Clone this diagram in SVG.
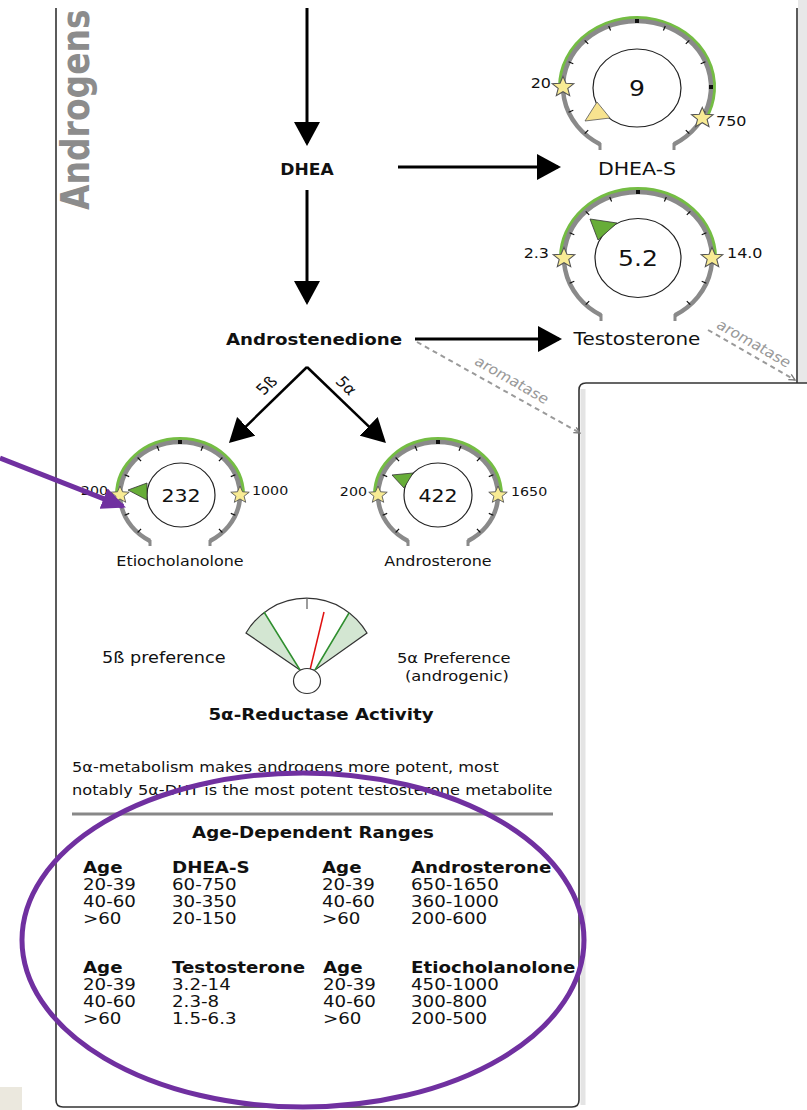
<svg xmlns="http://www.w3.org/2000/svg" width="807" height="1110" viewBox="0 0 807 1110">
<defs>
<style>
.f{font-family:"DejaVu Sans","Noto Sans",sans-serif;fill:#111}
.b{font-weight:bold}
.c{text-anchor:middle}
.e{text-anchor:end}
.arc{fill:none;stroke:#8a8a8a;stroke-width:4.5}
.hook{fill:none;stroke:#8a8a8a;stroke-width:3}
.grn{fill:none;stroke:#74bd43;stroke-width:4}
.tk{stroke:#111;stroke-width:1.2;fill:none}
.inner{fill:#fff;stroke:#222;stroke-width:1.2}
.star{fill:#f8eb94;stroke:#555;stroke-width:0.9}
.ptrG{fill:#67ad38;stroke:#333;stroke-width:0.8}
.ptrY{fill:#f7e38f;stroke:#555;stroke-width:0.8}
.ln{stroke:#000;fill:none}
.dash{stroke:#9a9a9a;stroke-width:2;stroke-dasharray:5 4;fill:none}
.aro{fill:#999}
.border{fill:none;stroke:#333;stroke-width:1.6}
</style>
<marker id="ah" markerUnits="userSpaceOnUse" markerWidth="24" markerHeight="26" viewBox="0 0 24 26" refX="21" refY="13" orient="auto"><path d="M0,0 L24,13 L0,26 Z" fill="#000"/></marker>
<marker id="ahp" markerUnits="userSpaceOnUse" markerWidth="24" markerHeight="22" viewBox="0 0 24 22" refX="21" refY="11" orient="auto"><path d="M0,0 L24,11 L0,22 Z" fill="#7030a0"/></marker>
<marker id="ahg" markerUnits="userSpaceOnUse" markerWidth="8" markerHeight="8" viewBox="0 0 8 8" refX="7" refY="4" orient="auto"><path d="M1,1 L7,4 L1,7" fill="none" stroke="#777" stroke-width="1.3"/></marker>
<polygon id="star" class="star" points="0,-9.5 2.47,-3.4 9.04,-2.94 3.99,1.3 5.58,7.69 0,4.2 -5.58,7.69 -3.99,1.3 -9.04,-2.94 -2.47,-3.4"/>
<g id="gBig">
<path class="arc" d="M-37,57.2 A74,66 0 1 1 37,57.2"/>
<path class="hook" d="M-37,56 v7 M37,56 v7"/>
<path class="tk" d="M28.3,-61 L26.4,-56.4 M-28.3,-61 L-26.4,-56.4 M52.3,-46.7 L48.8,-43.1 M-52.3,-46.7 L-48.8,-43.1 M68.4,-25.3 L63.7,-23.3 M-68.4,-25.3 L-63.7,-23.3 M68.4,25.3 L63.7,23.3 M-68.4,25.3 L-63.7,23.3 M52.3,46.7 L48.8,43.1 M-52.3,46.7 L-48.8,43.1"/>
<rect x="-2" y="-68" width="4" height="4" fill="#111"/>
<rect x="72" y="-2" width="4" height="4" fill="#111"/>
<rect x="-76" y="-2" width="4" height="4" fill="#111"/>
</g>
<g id="gSmall">
<path class="arc" d="M-30,45.9 A60,53 0 1 1 30,45.9"/>
<path class="hook" d="M-30,45 v6 M30,45 v6"/>
<path class="tk" d="M23,-49 L21,-44.3 M-23,-49 L-21,-44.3 M42.4,-37.5 L38.9,-33.9 M-42.4,-37.5 L-38.9,-33.9 M55.4,-20.3 L50.8,-18.4 M-55.4,-20.3 L-50.8,-18.4 M55.4,20.3 L50.8,18.4 M-55.4,20.3 L-50.8,18.4 M42.4,37.5 L38.9,33.9 M-42.4,37.5 L-38.9,33.9"/>
<rect x="-2" y="-55" width="4" height="4" fill="#111"/>
<rect x="58" y="-2" width="4" height="4" fill="#111"/>
<rect x="-62" y="-2" width="4" height="4" fill="#111"/>
</g>
</defs>

<rect width="807" height="1110" fill="#fff"/>

<g id="panels">
<rect x="0" y="1087" width="22" height="23" fill="#ebe8de"/>
<rect x="798" y="0" width="9" height="383" fill="#e8e8e8"/>
<line class="border" x1="797" y1="8" x2="797" y2="383"/>
<path class="border" d="M56,8 V1100 Q56,1107 63,1107 H572 Q579,1107 579,1100"/>
<rect x="580.5" y="389" width="5" height="716" fill="#e4e4e4"/>
<path class="border" d="M579,1100 V390 Q579,383 586,383 H807"/>
<text class="f b" font-size="33" style="fill:#8c8c8c" transform="translate(89,210) scale(1.16,1) rotate(-90)">Androgens</text>
</g>

<g id="connectors">
<path class="ln" stroke-width="3" d="M307,8 V143" marker-end="url(#ah)"/>
<path class="ln" stroke-width="3" d="M307,190 V302" marker-end="url(#ah)"/>
<path class="ln" stroke-width="3" d="M398,167 H558" marker-end="url(#ah)"/>
<path class="ln" stroke-width="3" d="M415,339 H559" marker-end="url(#ah)"/>
<path class="ln" stroke-width="2.5" d="M307,367 L231.1,440.9" marker-end="url(#ah)"/>
<path class="ln" stroke-width="2.5" d="M307,367 L383.8,440.9" marker-end="url(#ah)"/>
<text class="f" font-size="15" transform="translate(271,389) scale(1.14,1) rotate(-47)" text-anchor="middle">5ß</text>
<text class="f" font-size="15" transform="translate(342,389) scale(1.14,1) rotate(47)" text-anchor="middle">5α</text>
<path class="dash" d="M417,342 L580,433" marker-end="url(#ahg)"/>
<path class="dash" d="M708,330 L795,380" marker-end="url(#ahg)"/>
<text class="f aro" style="fill:#999" font-size="14" text-anchor="middle" transform="translate(509,384) scale(1.14,1) rotate(33)">aromatase</text>
<text class="f aro" style="fill:#999" font-size="14" text-anchor="middle" transform="translate(751,347.5) scale(1.14,1) rotate(33)">aromatase</text>
</g>

<g id="dhea">
<text class="f b c" font-size="15" transform="translate(307,175) scale(1.14,1)">DHEA</text>
</g>
<g id="androstenedione">
<text class="f b c" font-size="16" transform="translate(314,345) scale(1.14,1)">Androstenedione</text>
</g>

<g id="dhea-s" transform="translate(637,87)">
<path class="grn" d="M-77,0 A77,69 0 1 1 68,32.4"/>
<use href="#gBig"/>
<use href="#star" transform="translate(-74,0) scale(1.2,1.12)"/>
<use href="#star" transform="translate(65.3,31) scale(1.2,1.12)"/>
<ellipse class="inner" cx="0" cy="1" rx="44" ry="39"/>
<polygon class="ptrY" points="-52,34 -40,15 -27,31"/>
<text class="f c" font-size="22" transform="translate(0,9) scale(1.14,1)">9</text>
<text class="f e" font-size="14" transform="translate(-86,1) scale(1.14,1)">20</text>
<text class="f" font-size="14" transform="translate(79,39) scale(1.14,1)">750</text>
<text class="f c" font-size="18" transform="translate(0,88) scale(1.14,1)">DHEA-S</text>
</g>

<g id="testosterone" transform="translate(638,258)">
<path class="grn" d="M-77,0 A77,69 0 0 1 77,0"/>
<use href="#gBig"/>
<use href="#star" transform="translate(-74,0) scale(1.2,1.12)"/>
<use href="#star" transform="translate(74,0) scale(1.2,1.12)"/>
<ellipse class="inner" cx="0" cy="0" rx="43" ry="39.5"/>
<polygon class="ptrG" points="-48,-39 -21,-35 -40,-18"/>
<text class="f c" font-size="22" transform="translate(0,8) scale(1.14,1)">5.2</text>
<text class="f e" font-size="14" transform="translate(-89,0) scale(1.14,1)">2.3</text>
<text class="f" font-size="14" transform="translate(89,0) scale(1.14,1)">14.0</text>
<text class="f c" font-size="17.5" transform="translate(-1,87) scale(1.14,1)">Testosterone</text>
</g>

<g id="etiocholanolone" transform="translate(180,495)">
<path class="grn" d="M-63,0 A63,56 0 0 1 63,0"/>
<use href="#gSmall"/>
<use href="#star" transform="translate(-60,0) scale(1.02,0.95)"/>
<use href="#star" transform="translate(60,0) scale(1.02,0.95)"/>
<ellipse class="inner" cx="1" cy="0" rx="34" ry="32"/>
<polygon class="ptrG" points="-52,-5 -33,-12 -33,5"/>
<text class="f c" font-size="18" transform="translate(1,7) scale(1.14,1)">232</text>
<text class="f e" font-size="12.5" transform="translate(-72,0) scale(1.14,1)">200</text>
<text class="f" font-size="12.5" transform="translate(72,0) scale(1.14,1)">1000</text>
<text class="f c" font-size="14" transform="translate(0,71) scale(1.14,1)">Etiocholanolone</text>
</g>

<g id="androsterone" transform="translate(438,495)">
<path class="grn" d="M-63,0 A63,56 0 0 1 63,0"/>
<use href="#gSmall"/>
<use href="#star" transform="translate(-60,0) scale(1.02,0.95)"/>
<use href="#star" transform="translate(60,0) scale(1.02,0.95)"/>
<ellipse class="inner" cx="0" cy="0" rx="34" ry="32"/>
<polygon class="ptrG" points="-46,-20 -25,-22 -34,-7"/>
<text class="f c" font-size="18" transform="translate(0,7) scale(1.14,1)">422</text>
<text class="f e" font-size="12.5" transform="translate(-71,1) scale(1.14,1)">200</text>
<text class="f" font-size="12.5" transform="translate(73,1) scale(1.14,1)">1650</text>
<text class="f c" font-size="14" transform="translate(0,71) scale(1.14,1)">Androsterone</text>
</g>

<g id="reductase-gauge">
<path d="M300,670 L246,633 A70,70 0 0 1 367,633 L315,670 Z" fill="#fff"/>
<path d="M300,670 L246,633 A70,70 0 0 1 264,612 Z" fill="#d3e6d2"/>
<path d="M315,670 L349,613 A70,70 0 0 1 367,633 Z" fill="#d3e6d2"/>
<path d="M300,670 L246,633 A70,70 0 0 1 367,633 L315,670 Z" fill="none" stroke="#333" stroke-width="1.2"/>
<path d="M264,612 L300,670 M349,613 L315,670" stroke="#2f8f2f" stroke-width="1.5" fill="none"/>
<line x1="307" y1="598" x2="307" y2="609" stroke="#666" stroke-width="1.3"/>
<line x1="324" y1="612" x2="310" y2="670" stroke="#e01010" stroke-width="1.5"/>
<ellipse cx="307" cy="681" rx="13.5" ry="12.5" fill="#fff" stroke="#333" stroke-width="1.2"/>
<text class="f" font-size="15.5" transform="translate(102,663) scale(1.14,1)">5ß preference</text>
<text class="f" font-size="14.3" transform="translate(397,663) scale(1.14,1)">5α Preference</text>
<text class="f" font-size="14.3" transform="translate(405,681) scale(1.14,1)">(androgenic)</text>
<text class="f b c" font-size="16" transform="translate(321,720) scale(1.14,1)">5α-Reductase Activity</text>
</g>

<g id="note">
<text class="f" font-size="14.2" transform="translate(72,772) scale(1.14,1)">5α-metabolism makes androgens more potent, most</text>
<text class="f" font-size="14.2" transform="translate(72,795) scale(1.14,1)">notably 5α-DHT is the most potent testosterone metabolite</text>
<line x1="72" y1="814" x2="553" y2="814" stroke="#888" stroke-width="3"/>
</g>

<g id="ranges-table">
<text class="f b c" font-size="16" transform="translate(313,838) scale(1.14,1)">Age-Dependent Ranges</text>
<g font-size="16">
<text class="f b" transform="translate(83,873) scale(1.14,1)">Age</text>
<text class="f" transform="translate(83,890) scale(1.14,1)">20-39</text>
<text class="f" transform="translate(83,907) scale(1.14,1)">40-60</text>
<text class="f" transform="translate(83,924) scale(1.14,1)">&gt;60</text>
<text class="f b" transform="translate(172,873) scale(1.14,1)">DHEA-S</text>
<text class="f" transform="translate(172,890) scale(1.14,1)">60-750</text>
<text class="f" transform="translate(172,907) scale(1.14,1)">30-350</text>
<text class="f" transform="translate(172,924) scale(1.14,1)">20-150</text>
<text class="f b" transform="translate(322,873) scale(1.14,1)">Age</text>
<text class="f" transform="translate(322,890) scale(1.14,1)">20-39</text>
<text class="f" transform="translate(322,907) scale(1.14,1)">40-60</text>
<text class="f" transform="translate(322,924) scale(1.14,1)">&gt;60</text>
<text class="f b" transform="translate(411,873) scale(1.14,1)">Androsterone</text>
<text class="f" transform="translate(411,890) scale(1.14,1)">650-1650</text>
<text class="f" transform="translate(411,907) scale(1.14,1)">360-1000</text>
<text class="f" transform="translate(411,924) scale(1.14,1)">200-600</text>
<text class="f b" transform="translate(83,973) scale(1.14,1)">Age</text>
<text class="f" transform="translate(83,990) scale(1.14,1)">20-39</text>
<text class="f" transform="translate(83,1007) scale(1.14,1)">40-60</text>
<text class="f" transform="translate(83,1024) scale(1.14,1)">&gt;60</text>
<text class="f b" transform="translate(172,973) scale(1.14,1)">Testosterone</text>
<text class="f" transform="translate(172,990) scale(1.14,1)">3.2-14</text>
<text class="f" transform="translate(172,1007) scale(1.14,1)">2.3-8</text>
<text class="f" transform="translate(172,1024) scale(1.14,1)">1.5-6.3</text>
<text class="f b" transform="translate(323,973) scale(1.14,1)">Age</text>
<text class="f" transform="translate(323,990) scale(1.14,1)">20-39</text>
<text class="f" transform="translate(323,1007) scale(1.14,1)">40-60</text>
<text class="f" transform="translate(323,1024) scale(1.14,1)">&gt;60</text>
<text class="f b" transform="translate(411,973) scale(1.14,1)">Etiocholanolone</text>
<text class="f" transform="translate(411,990) scale(1.14,1)">450-1000</text>
<text class="f" transform="translate(411,1007) scale(1.14,1)">300-800</text>
<text class="f" transform="translate(411,1024) scale(1.14,1)">200-500</text>
</g>
</g>

<g id="annotation">
<ellipse cx="303" cy="940" rx="281" ry="167" fill="none" stroke="#7030a0" stroke-width="5"/>
<path d="M0,458 L123.1,506.3" stroke="#7030a0" stroke-width="5" fill="none" marker-end="url(#ahp)"/>
</g>
</svg>
